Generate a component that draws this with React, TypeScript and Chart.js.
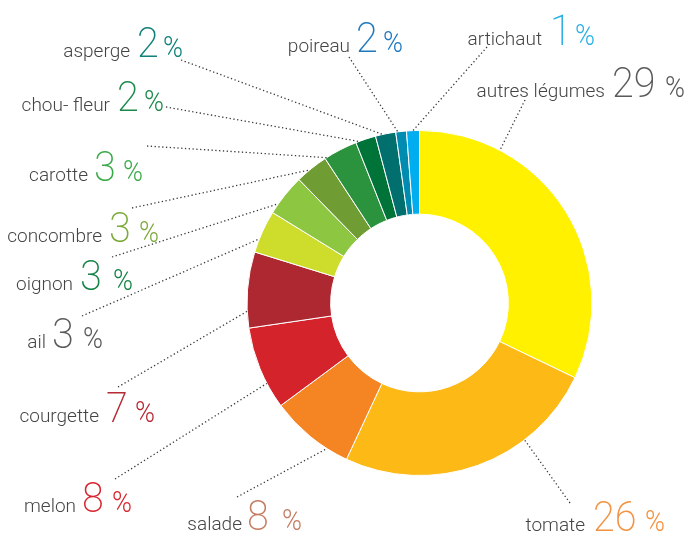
import { useEffect, useRef } from "react";
import { Chart, registerables } from "chart.js";

Chart.register(...registerables);

// ---- data ----
const categories = [
  "autres légumes",
  "tomate",
  "salade",
  "melon",
  "courgette",
  "ail",
  "oignon",
  "concombre",
  "carotte",
  "chou- fleur",
  "asperge",
  "poireau",
  "artichaut",
];
// slice shares as drawn in the picture (%)
const sliceShares = [32.1, 24.8, 7.9, 7.8, 7.1, 4.0, 3.9, 3.1, 3.2, 1.9, 1.9, 1.0, 1.2];
// percentages printed in the labels
const percentLabels = ["29", "26", "8", "8", "7", "3", "3", "3", "3", "2", "2", "2", "1"];

const sliceColors = [
  "#FFF100",
  "#FDB916",
  "#F58523",
  "#D5232B",
  "#AE2831",
  "#CEDC2C",
  "#8DC640",
  "#6F9D33",
  "#2B923E",
  "#007339",
  "#006F6D",
  "#008BB0",
  "#00AEEF",
];
const numberColors = [
  "#5a5a5a",
  "#F39240",
  "#C47D62",
  "#D7262F",
  "#B52A33",
  "#5a5a5a",
  "#168448",
  "#7DAA3C",
  "#3DAA4A",
  "#1C8A4B",
  "#11807A",
  "#1E78BE",
  "#2CB0E6",
];

// ---- label layout (text placement, leader-line start, anchor fraction inside slice) ----
const labelLayout = [
  { nameEnd: 605, num: 612, pct: 665, y: 97, lx: 525, ly: 100, f: 0.24 },
  { nameEnd: 585, num: 593, pct: 645, y: 531, lx: 570, ly: 503, f: 0.3 },
  { nameEnd: 242, num: 247, pct: 282, y: 530, lx: 237, ly: 497, f: 0.26 },
  { nameEnd: 76, num: 82, pct: 112, y: 512, lx: 115, ly: 479, f: 0.31 },
  { nameEnd: 99, num: 106, pct: 135, y: 422, lx: 118, ly: 387, f: 0.22 },
  { nameEnd: 46, num: 52, pct: 83, y: 348, lx: 82, ly: 316, f: 0.32 },
  { nameEnd: 73, num: 80, pct: 113, y: 290, lx: 112, ly: 257, f: 0.25 },
  { nameEnd: 102, num: 109, pct: 139, y: 242, lx: 132, ly: 208, f: 0.43 },
  { nameEnd: 88, num: 94, pct: 123, y: 181, lx: 147, ly: 146, f: 0.05 },
  { nameEnd: 110, num: 117, pct: 144, y: 111, lx: 166, ly: 107, f: 0.16 },
  { nameEnd: 130, num: 137, pct: 163, y: 57, lx: 181, ly: 60, f: 0.36 },
  { nameEnd: 350, num: 356, pct: 383, y: 52, lx: 349, ly: 57, f: 0.2 },
  { nameEnd: 542, num: 550, pct: 575, y: 45, lx: 487, ly: 47, f: 0.5 },
];

const FONT = "Roboto, 'Open Sans', sans-serif";

const labelPlugin = {
  id: "outsideLabels",
  afterDraw(chart: any) {
    const ctx = chart.ctx as CanvasRenderingContext2D;
    const meta = chart.getDatasetMeta(0);
    ctx.save();
    meta.data.forEach((arc: any, i: number) => {
      const L = labelLayout[i];
      const a = arc.startAngle + (arc.endAngle - arc.startAngle) * L.f;
      const ex = arc.x + Math.cos(a) * arc.outerRadius;
      const ey = arc.y + Math.sin(a) * arc.outerRadius;
      // leader line
      ctx.save();
      ctx.strokeStyle = "#3a3a3a";
      ctx.lineWidth = 1.3;
      ctx.setLineDash([1.3, 2.5]);
      ctx.beginPath();
      ctx.moveTo(L.lx, L.ly);
      ctx.lineTo(ex, ey);
      ctx.stroke();
      ctx.restore();

      // name
      ctx.fillStyle = "#454545";
      ctx.font = `300 19px ${FONT}`;
      ctx.textAlign = "right";
      ctx.textBaseline = "alphabetic";
      ctx.fillText(categories[i], L.nameEnd, L.y);

      // number
      ctx.fillStyle = numberColors[i];
      ctx.textAlign = "left";
      ctx.save();
      ctx.translate(L.num, L.y);
      ctx.scale(0.92, 1);
      ctx.font = `200 43px ${FONT}`;
      ctx.fillText(percentLabels[i], 0, 0);
      ctx.restore();

      // percent sign
      ctx.save();
      ctx.translate(L.pct, L.y);
      ctx.scale(0.9, 1);
      ctx.font = `300 30px ${FONT}`;
      ctx.fillText("%", 0, 0);
      ctx.restore();
    });
    ctx.restore();
  },
};

export default function App() {
  const ref = useRef<HTMLCanvasElement | null>(null);
  useEffect(() => {
    if (!ref.current) return;
    const chart = new Chart(ref.current, {
      type: "doughnut",
      data: {
        labels: categories,
        datasets: [
          {
            data: sliceShares,
            backgroundColor: sliceColors,
            borderColor: "#ffffff",
            borderWidth: 1,
          },
        ],
      },
      options: {
        responsive: true,
        maintainAspectRatio: false,
        devicePixelRatio: 1,
        animation: false,
        cutout: "51.5%",
        layout: { padding: { left: 246.5, right: 99.5, top: 130, bottom: 57 } },
        plugins: {
          legend: { display: false },
          tooltip: { enabled: false },
        },
      },
      plugins: [labelPlugin],
    });
    return () => chart.destroy();
  }, []);
  return (
    <div style={{ position: "fixed", left: 0, top: 0, width: 692, height: 533, background: "#fff" }}>
      <canvas ref={ref} />
    </div>
  );
}
